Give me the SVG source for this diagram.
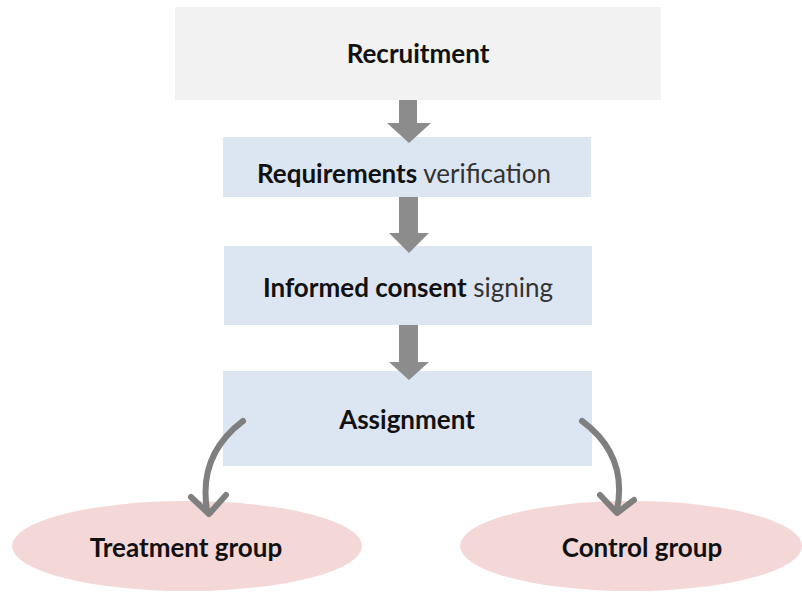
<svg xmlns="http://www.w3.org/2000/svg" width="802" height="592" viewBox="0 0 802 592">
<style>
.t{font-family:Lato,"Open Sans","Liberation Sans",sans-serif;font-size:26px;fill:#111;text-anchor:middle}
.b{font-weight:bold}
.n{font-weight:normal;fill:#333}
.blue{fill:#dce6f2}
.pink{fill:#f4d8d8}
.blk{fill:#8c8c8c}
.crv{fill:none;stroke:#7f7f7f;stroke-width:6;stroke-linecap:round;stroke-linejoin:round}
</style>
<rect width="802" height="592" fill="#fff"/>
<g id="recruitment">
<rect x="175" y="7" width="486" height="93" fill="#f2f2f2"/>
<text class="t b" x="418" y="63">Recruitment</text>
</g>
<g id="requirements">
<rect class="blue" x="223" y="137" width="368" height="60"/>
<text class="t" x="404" y="183"><tspan class="b">Requirements</tspan><tspan class="n"> verification</tspan></text>
</g>
<g id="consent">
<rect class="blue" x="224" y="246" width="368" height="79"/>
<text class="t" x="408" y="297"><tspan class="b">Informed consent</tspan><tspan class="n"> signing</tspan></text>
</g>
<g id="assignment">
<rect class="blue" x="223" y="371" width="369" height="95"/>
<text class="t b" x="407" y="429">Assignment</text>
</g>
<g id="treatment">
<ellipse class="pink" cx="187" cy="546" rx="175" ry="45"/>
<text class="t b" x="186" y="557">Treatment group</text>
</g>
<g id="control">
<ellipse class="pink" cx="631" cy="546" rx="171" ry="45"/>
<text class="t b" x="642" y="557">Control group</text>
</g>
<g id="connectors">
<polygon class="blk" points="399,100 417,100 417,123 431,123 409,143 387,123 399,123"/>
<polygon class="blk" points="399,197 418,197 418,233 429,233 409,253 389,233 399,233"/>
<polygon class="blk" points="399,325 418,325 418,362 429,362 409,380 389,362 399,362"/>
<path class="crv" d="M243,421 Q198,455 207,510"/>
<polyline class="crv" points="191,497 209,514 226,495"/>
<path class="crv" d="M582,421 Q628,455 617,510"/>
<polyline class="crv" points="600,495 617,513 634,500"/>
</g>
</svg>
